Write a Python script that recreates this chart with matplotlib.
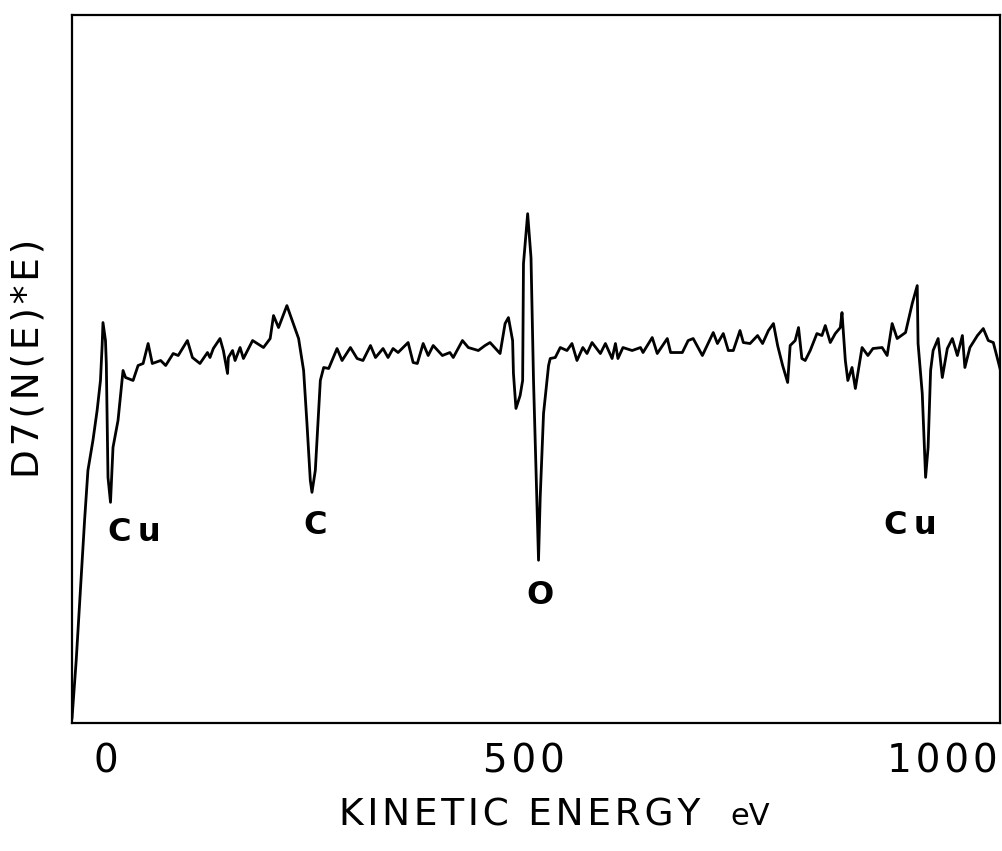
import numpy as np
import matplotlib
matplotlib.use('Agg')
import matplotlib.pyplot as plt

# Auger spectrum, values (energy in eV, signal in arbitrary units)
energy = [-41, -36, -31, -26, -22, -16, -11, -7, -5, -4, -1, 0, 1, 2, 5,
          8, 14, 20, 23, 32, 38, 44, 50, 55, 65, 71, 80, 86, 97, 103, 112,
          121, 124, 128, 136, 140, 145, 146, 151, 154, 160, 164, 175, 188,
          196, 200, 206, 216, 230, 236, 240, 244, 246, 250, 256, 260, 266,
          276, 282, 292, 300, 307, 316, 322, 331, 337, 343, 349, 361, 367,
          372, 379, 385, 391, 402, 411, 415, 426, 433, 445, 453, 459, 471,
          477, 481, 486, 487, 490, 495, 498, 499, 504, 508, 511, 515, 517,
          519, 523, 529, 531, 537, 543, 551, 557, 563, 570, 575, 581, 591,
          597, 605, 609, 612, 618, 629, 639, 642, 653, 659, 671, 675, 689,
          696, 702, 713, 726, 731, 738, 744, 750, 758, 762, 770, 779, 785,
          792, 798, 803, 809, 815, 818, 824, 828, 832, 836, 842, 850, 856,
          860, 866, 872, 878, 880, 884, 887, 892, 896, 904, 911, 917, 928,
          934, 940, 946, 956, 964, 970, 971, 976, 980, 983, 986, 989, 995,
          1000, 1006, 1012, 1018, 1024, 1027, 1033, 1042, 1049, 1055, 1061,
          1069]
signal = [4, 62, 132, 202, 252, 282, 312, 342, 377, 400, 382, 359, 302, 245, 220,
          275, 302, 352, 345, 342, 357, 359, 379, 359, 362, 357, 369, 367, 382, 365, 359,
          370, 365, 374, 384, 372, 349, 365, 372, 362, 375, 364, 382, 375,
          384, 407, 395, 417, 384, 352, 299, 242, 230, 252, 342, 355, 354,
          374, 362, 375, 364, 362, 377, 365, 374, 365, 374, 370, 380, 360,
          359, 379, 367, 377, 367, 370, 365, 382, 375, 372, 377, 380, 369,
          399, 405, 382, 349, 314, 327, 342, 459, 509, 465, 342, 222, 162,
          225, 309, 357, 364, 365, 375, 372, 379, 362, 375, 369, 380, 369,
          379, 364, 379, 364, 375, 372, 375, 370, 385, 369, 384, 370, 370,
          382, 384, 367, 390, 379, 389, 372, 372, 392, 380, 379, 387, 379,
          392, 399, 377, 357, 340, 377, 382, 395, 364, 362, 372, 389, 387,
          397, 380, 389, 395, 410, 362, 342, 355, 334, 375, 367, 374, 375,
          367, 399, 384, 390, 419, 437, 379, 329, 245, 275, 352, 372, 384,
          345, 374, 384, 367, 387, 355, 375, 387, 394, 382, 380,
          354]

peak_labels = ['Cu', 'C', 'O', 'Cu']
peak_label_x = [33, 250, 519, 962]
peak_label_y = [190, 197, 127, 197]

x_ticks = [0, 500, 1000]

plt.rcParams['font.family'] = ['DejaVu Sans']


def spaced(s, sep='\u200a'):
    # the scanned lettering is spread out a little
    return sep.join(s)


fig = plt.figure(figsize=(10.02, 8.51), dpi=100)
ax = fig.add_axes([0.0719, 0.1504, 0.9261, 0.832])

ax.plot(energy, signal, color='black', linewidth=2.0, solid_joinstyle='round')

ax.set_xlim(-41, 1069)
ax.set_ylim(-1, 708)

ax.set_xticks(x_ticks)
ax.set_xticklabels([spaced(str(t)) for t in x_ticks], fontsize=28)
ax.set_yticks([])
ax.tick_params(axis='x', length=0, pad=14)

for sp in ax.spines.values():
    sp.set_linewidth(1.6)

for lab, xx, yy in zip(peak_labels, peak_label_x, peak_label_y):
    txt = '\u2009'.join(lab)
    ax.text(xx, yy, txt, fontsize=23, fontweight='bold', ha='center', va='center')

fig.text(520 / 1002, 1 - 825 / 851, spaced('KINETIC ENERGY'), fontsize=27,
         ha='center', va='baseline')
fig.text(750 / 1002, 1 - 825 / 851, 'eV', fontsize=22,
         ha='center', va='baseline')
fig.text(29 / 1002, 1 - 358 / 851, spaced('D7(N(E)*E)'), fontsize=27, rotation=90,
         ha='center', va='center')

fig.savefig('out.png', dpi=100)
